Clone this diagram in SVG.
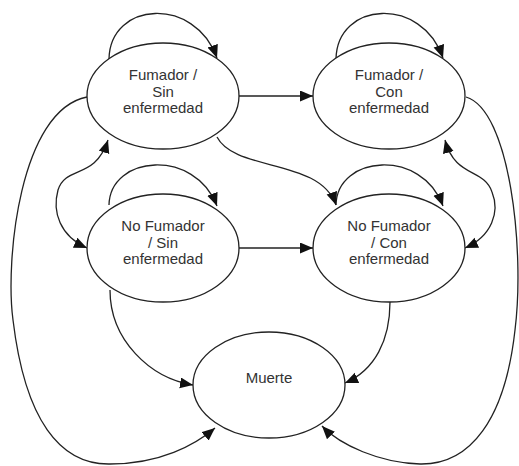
<svg xmlns="http://www.w3.org/2000/svg" width="519" height="466" viewBox="0 0 519 466">
<style>
.node ellipse{fill:#fff;stroke:#222;stroke-width:1.3}
.node text{font-family:"Liberation Sans",Arial,sans-serif;font-size:15px;fill:#333;text-anchor:middle}
.edges path{fill:none;stroke:#222;stroke-width:1.3;marker-end:url(#arr)}
</style>
<defs>
<marker id="arr" markerUnits="userSpaceOnUse" markerWidth="14" markerHeight="12" refX="13" refY="5.5" orient="auto">
<path d="M0,0 L13,5.5 L0,11 z" fill="#111"/>
</marker>
<marker id="arrs" markerUnits="userSpaceOnUse" markerWidth="14" markerHeight="12" refX="13" refY="5.5" orient="auto-start-reverse">
<path d="M0,0 L13,5.5 L0,11 z" fill="#111"/>
</marker>
</defs>
<rect width="519" height="466" fill="#fff"/>
<g class="edges">
<path d="M109,59 C110,1 195,-4 217,58"/>
<path d="M336,59 C337,1 422,-4 443,58"/>
<path d="M109,205 C110,155 195,148 217,206"/>
<path d="M336,205 C337,155 422,148 443,206"/>
<path d="M238,96 L313,96"/>
<path d="M238,248 L313,248"/>
<path d="M217,137 C235,172 320,158 336,205"/>
<path d="M87,248 C60,236 52,212 58,190 C66,165 95,180 108,140" style="marker-start:url(#arrs)"/>
<path d="M465,248 C492,236 500,212 492,192 C484,168 455,178 445,140" style="marker-start:url(#arrs)"/>
<path d="M87,97 C20,110 5,260 13,320 C25,420 60,465 110,464 C160,464 195,445 215,428"/>
<path d="M466,97 C510,110 525,250 515,330 C505,420 470,465 420,464 C380,463 340,445 322,426"/>
<path d="M110,290 C110,340 150,378 193,385"/>
<path d="M390,302 C390,340 375,370 345,383"/>
</g>
<g id="fumador-sin" class="node">
<ellipse cx="163" cy="96" rx="76" ry="53"/>
<text x="163" y="80">Fumador /</text>
<text x="163" y="96.5">Sin</text>
<text x="163" y="113">enfermedad</text>
</g>
<g id="fumador-con" class="node">
<ellipse cx="389" cy="96" rx="76" ry="53"/>
<text x="389" y="80">Fumador /</text>
<text x="389" y="96.5">Con</text>
<text x="389" y="113">enfermedad</text>
</g>
<g id="nofumador-sin" class="node">
<ellipse cx="163" cy="248" rx="76" ry="54"/>
<text x="163" y="231">No Fumador</text>
<text x="163" y="248">/ Sin</text>
<text x="163" y="264">enfermedad</text>
</g>
<g id="nofumador-con" class="node">
<ellipse cx="389" cy="248" rx="76" ry="54"/>
<text x="389" y="231">No Fumador</text>
<text x="389" y="248">/ Con</text>
<text x="389" y="264">enfermedad</text>
</g>
<g id="muerte" class="node">
<ellipse cx="269" cy="385" rx="76" ry="53"/>
<text x="269" y="383">Muerte</text>
</g>
</svg>
